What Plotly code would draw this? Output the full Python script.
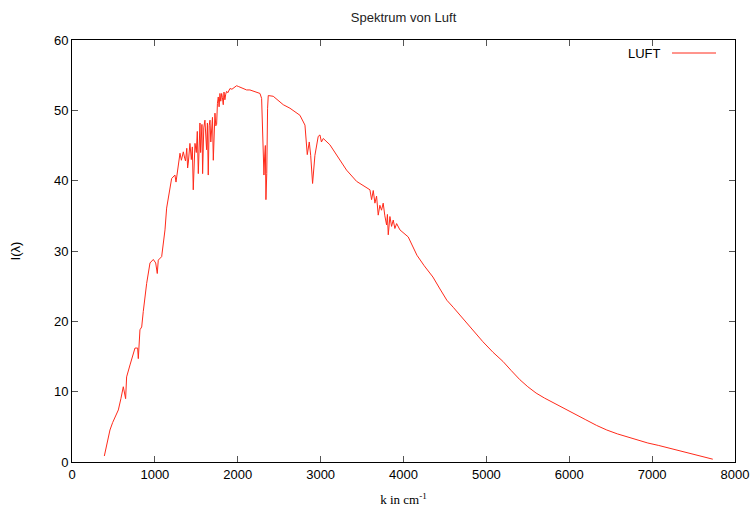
import plotly.graph_objects as go

# Wavenumber (cm^-1) and intensity
k_vals = [390, 420, 458, 490, 511, 540, 559, 590, 619, 647, 659, 700, 760, 792, 800, 820, 841, 860, 901, 941, 981, 1010,
          1029, 1041, 1082, 1122, 1142, 1202, 1242, 1255, 1275, 1303, 1320, 1343, 1360, 1370, 1385, 1395, 1403, 1413, 1423, 1440,
          1452, 1463, 1474, 1484, 1500, 1512, 1524, 1534, 1544, 1552, 1560, 1568, 1576, 1590, 1604, 1614, 1624, 1634, 1644, 1655, 1665,
          1675, 1685, 1695, 1705, 1715, 1725, 1735, 1745, 1755,
          1765, 1775, 1785, 1795, 1806, 1815, 1825, 1834, 1845, 1855, 1866, 1880, 1906, 1930, 1986, 2006, 2107, 2147, 2268, 2288, 2300,
          2316, 2325, 2333, 2340, 2350, 2360, 2368, 2428, 2549, 2630, 2750, 2811, 2839, 2863, 2880,
          2903, 2931, 2971, 2992, 3010, 3032, 3112, 3152, 3313, 3434, 3474, 3514, 3560, 3595, 3615,
          3635, 3655, 3675, 3695, 3715, 3735, 3755, 3775, 3796, 3806, 3816, 3836, 3856, 3876, 3896,
          3917, 3957, 4057, 4117, 4162, 4250, 4355, 4440, 4523, 4600, 4680, 4800, 4880, 4958, 5080, 5200, 5300,
          5404, 5500, 5600, 5700, 5800, 5900, 5971, 6100, 6200, 6330, 6453, 6580, 6700, 6820, 6948, 7080,
          7200, 7330, 7455, 7600, 7732]
i_vals = [0.85, 2.5, 4.55, 5.6, 6.2, 6.8, 7.4, 9.0, 10.7, 9.0, 12.1, 13.8, 16.2, 16.2, 14.7, 18.8, 19.2, 21.4, 25.4, 28.3, 28.8, 28.3,
          26.8, 28.7, 29.2, 33.0, 36.1, 40.3, 40.8, 39.8, 41.5, 43.9, 42.9, 44.1, 43.2, 42.8, 44.6, 41.8, 42.5, 45.0, 45.3, 43.0,
          44.8, 38.7, 44.5, 45.3, 44.0, 47.0, 41.0, 46.5, 48.2, 44.0, 45.5, 48.0, 41.0, 47.5, 48.6, 46.0, 44.4, 48.2, 40.8, 47.8, 48.6,
          45.5, 46.7, 49.0, 42.9, 48.5, 49.6, 47.8, 48.0, 51.0,
          51.9, 50.5, 52.4, 51.3, 52.4, 51.8, 50.8, 52.6, 51.5, 52.3, 52.7, 52.5, 53.1, 53.0, 53.5, 53.4, 52.9, 52.9, 52.4, 51.7, 47.4,
          40.8, 43.5, 45.0, 37.3, 41.0, 50.3, 52.1, 52.0, 50.8, 50.3, 49.3, 47.9, 43.7, 45.5, 43.6,
          39.6, 43.6, 46.3, 46.5, 45.5, 46.0, 45.1, 44.4, 41.5, 39.9, 39.6, 39.4, 39.0, 38.7, 37.3,
          38.6, 36.8, 37.8, 35.1, 36.5, 35.8, 36.8, 35.0, 33.7, 35.2, 32.3, 34.9, 33.5, 34.4, 33.2,
          33.9, 33.0, 32.0, 30.4, 29.4, 27.9, 26.3, 24.6, 23.0, 22.0, 20.9, 19.3, 18.2, 17.1, 15.6, 14.3, 13.0,
          11.7, 10.7, 9.8, 9.1, 8.5, 7.9, 7.4, 6.6, 6.0, 5.2, 4.55, 4.0, 3.6, 3.1, 2.7, 2.35,
          2.0, 1.65, 1.3, 0.8, 0.4]

x_ticks = [0, 1000, 2000, 3000, 4000, 5000, 6000, 7000, 8000]
y_ticks = [0, 10, 20, 30, 40, 50, 60]

fig = go.Figure()
fig.add_trace(go.Scatter(x=k_vals, y=i_vals, mode="lines", name="LUFT",
                         line=dict(color="#ff2a1a", width=1), showlegend=False))

font_sans = "Liberation Sans, Arial, sans-serif"
axis_common = dict(showline=True, linecolor="black", linewidth=1, mirror="allticks",
                   ticks="inside", ticklen=6, tickcolor="#555555", showgrid=False,
                   zeroline=False, automargin=False,
                   tickfont=dict(family=font_sans, size=13, color="black"))

fig.update_layout(
    width=751, height=509,
    margin=dict(l=72, r=16, t=40, b=47, autoexpand=False),
    paper_bgcolor="white", plot_bgcolor="white",
    title=dict(text="Spektrum von Luft", x=(72 + 735) / 2 / 751, xanchor="center",
               y=1 - 17 / 509, yanchor="middle",
               font=dict(family=font_sans, size=13, color="#222222")),
    xaxis=dict(range=[0, 8000], tickvals=x_ticks, **axis_common),
    yaxis=dict(range=[0, 60], tickvals=y_ticks, **axis_common),
    showlegend=False,
)
fig.update_xaxes(title=dict(text="k in cm<sup>-1</sup>", standoff=14,
                            font=dict(family="Liberation Serif, Times New Roman, serif", size=13, color="black")))
fig.update_yaxes(title=dict(text="I(λ)", standoff=30,
                            font=dict(family=font_sans, size=13, color="black")))

# legend emulation (gnuplot style: text left of sample)
fig.add_annotation(text="LUFT", xref="paper", yref="paper", x=(663 - 72) / 663, y=1 - 13 / 422,
                   xanchor="right", yanchor="middle", showarrow=False,
                   font=dict(family=font_sans, size=13, color="black"))
fig.add_shape(type="line", xref="paper", yref="paper", x0=(672 - 72) / 663, x1=(716 - 72) / 663,
              y0=1 - 13 / 422, y1=1 - 13 / 422, line=dict(color="#ff2a1a", width=1))

fig.write_html("out.html")
